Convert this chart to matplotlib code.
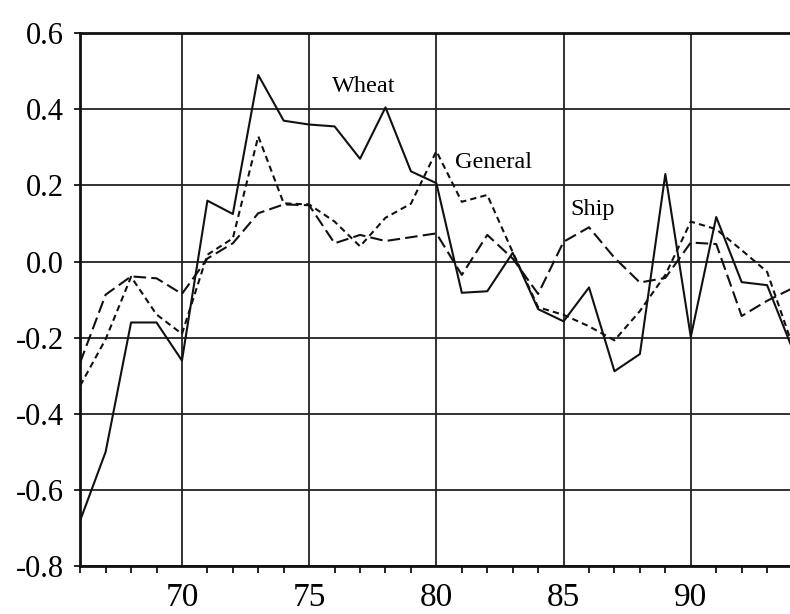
import matplotlib
matplotlib.use("Agg")
import matplotlib.pyplot as plt
from matplotlib.ticker import MultipleLocator

years = list(range(66, 95))
wheat = [-0.68, -0.50, -0.16, -0.16, -0.26, 0.16, 0.125, 0.49, 0.37, 0.36,
         0.355, 0.27, 0.405, 0.237, 0.206, -0.082, -0.078, 0.023, -0.125, -0.157,
         -0.068, -0.288, -0.243, 0.23, -0.198, 0.117, -0.054, -0.062, -0.23]
general = [-0.326, -0.204, -0.04, -0.139, -0.19, 0.018, 0.061, 0.329, 0.153, 0.15,
           0.105, 0.04, 0.115, 0.152, 0.29, 0.157, 0.175, 0.025, -0.12, -0.14,
           -0.17, -0.207, -0.13, -0.035, 0.105, 0.085, 0.03, -0.027, -0.22]
ship = [-0.265, -0.087, -0.039, -0.044, -0.085, 0.008, 0.048, 0.127, 0.15, 0.148,
        0.048, 0.07, 0.054, 0.064, 0.074, -0.035, 0.07, 0.008, -0.085, 0.052,
        0.09, 0.01, -0.055, -0.043, 0.05, 0.046, -0.143, -0.103, -0.07]

plt.rcParams['font.family'] = ['Liberation Serif', 'DejaVu Serif']

fig = plt.figure(figsize=(7.9, 6.14), dpi=100)
ax = fig.add_axes([0.1015, 0.078, 0.8985, 0.868])

ax.plot(years, wheat, color='#111111', lw=1.5, linestyle='-')
ax.plot(years, general, color='#111111', lw=1.5, linestyle=(0, (3, 2)))
ax.plot(years, ship, color='#111111', lw=1.5, linestyle=(0, (6, 2.5)))

ax.set_xlim(66, 93.9)
ax.set_ylim(-0.8, 0.6)
ax.set_xticks([70, 75, 80, 85, 90])
ax.xaxis.set_minor_locator(MultipleLocator(1))
ax.set_yticks([-0.8, -0.6, -0.4, -0.2, 0.0, 0.2, 0.4, 0.6])
ax.set_yticklabels(['-0.8', '-0.6', '-0.4', '-0.2', '0.0', '0.2', '0.4', '0.6'])

ax.grid(True, which='major', color='#222222', lw=1.3)
ax.tick_params(axis='y', which='major', labelsize=22, direction='out', length=4, width=1.2, pad=8)
ax.tick_params(axis='x', which='major', labelsize=24, length=0, pad=12)
ax.tick_params(axis='x', which='minor', direction='out', length=5, width=1.2)

for side in ['left', 'bottom', 'top']:
    ax.spines[side].set_linewidth(2.0)
    ax.spines[side].set_color('#111111')
ax.spines['right'].set_visible(False)

# series labels placed next to the lines
ax.text(75.9, 0.46, 'Wheat', fontsize=17.5, va='center', ha='left')
ax.text(80.75, 0.26, 'General', fontsize=17.5, va='center', ha='left')
ax.text(85.25, 0.136, 'Ship', fontsize=17.5, va='center', ha='left')

fig.savefig('out.png', dpi=100)
